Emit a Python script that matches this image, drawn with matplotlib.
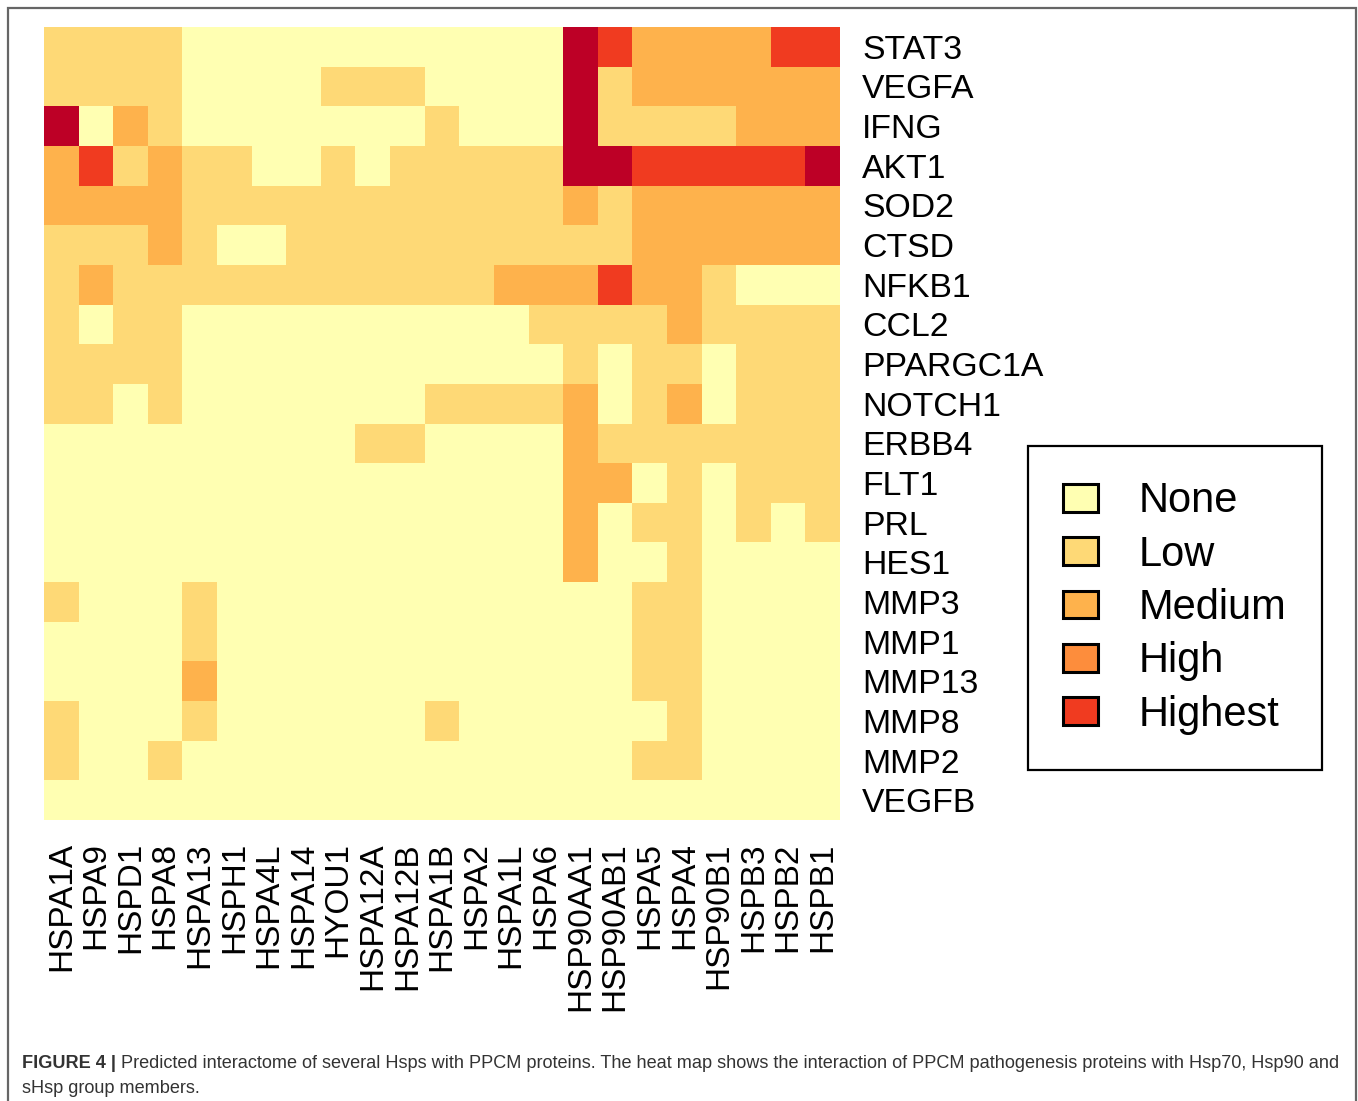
import matplotlib
matplotlib.use("Agg")
import matplotlib.pyplot as plt
import numpy as np
from matplotlib.colors import ListedColormap, BoundaryNorm
from matplotlib.patches import Patch, Rectangle

plt.rcParams['font.family'] = ['Liberation Sans', 'DejaVu Sans']

# ---------------- data ----------------
hsps = ["HSPA1A", "HSPA9", "HSPD1", "HSPA8", "HSPA13", "HSPH1", "HSPA4L", "HSPA14",
        "HYOU1", "HSPA12A", "HSPA12B", "HSPA1B", "HSPA2", "HSPA1L", "HSPA6",
        "HSP90AA1", "HSP90AB1", "HSPA5", "HSPA4", "HSP90B1", "HSPB3", "HSPB2", "HSPB1"]

proteins = ["STAT3", "VEGFA", "IFNG", "AKT1", "SOD2", "CTSD", "NFKB1", "CCL2",
            "PPARGC1A", "NOTCH1", "ERBB4", "FLT1", "PRL", "HES1", "MMP3", "MMP1",
            "MMP13", "MMP8", "MMP2", "VEGFB"]

# interaction level: 0 None, 1 Low, 2 Medium, 3 High, 4 Highest, 5 (darkest, not in legend)
stat3    = [1,1,1,1,0,0,0,0,0,0,0,0,0,0,0,5,4,2,2,2,2,4,4]
vegfa    = [1,1,1,1,0,0,0,0,1,1,1,0,0,0,0,5,1,2,2,2,2,2,2]
ifng     = [5,0,2,1,0,0,0,0,0,0,0,1,0,0,0,5,1,1,1,1,2,2,2]
akt1     = [2,4,1,2,1,1,0,0,1,0,1,1,1,1,1,5,5,4,4,4,4,4,5]
sod2     = [2,2,2,2,1,1,1,1,1,1,1,1,1,1,1,2,1,2,2,2,2,2,2]
ctsd     = [1,1,1,2,1,0,0,1,1,1,1,1,1,1,1,1,1,2,2,2,2,2,2]
nfkb1    = [1,2,1,1,1,1,1,1,1,1,1,1,1,2,2,2,4,2,2,1,0,0,0]
ccl2     = [1,0,1,1,0,0,0,0,0,0,0,0,0,0,1,1,1,1,2,1,1,1,1]
ppargc1a = [1,1,1,1,0,0,0,0,0,0,0,0,0,0,0,1,0,1,1,0,1,1,1]
notch1   = [1,1,0,1,0,0,0,0,0,0,0,1,1,1,1,2,0,1,2,0,1,1,1]
erbb4    = [0,0,0,0,0,0,0,0,0,1,1,0,0,0,0,2,1,1,1,1,1,1,1]
flt1     = [0,0,0,0,0,0,0,0,0,0,0,0,0,0,0,2,2,0,1,0,1,1,1]
prl      = [0,0,0,0,0,0,0,0,0,0,0,0,0,0,0,2,0,1,1,0,1,0,1]
hes1     = [0,0,0,0,0,0,0,0,0,0,0,0,0,0,0,2,0,0,1,0,0,0,0]
mmp3     = [1,0,0,0,1,0,0,0,0,0,0,0,0,0,0,0,0,1,1,0,0,0,0]
mmp1     = [0,0,0,0,1,0,0,0,0,0,0,0,0,0,0,0,0,1,1,0,0,0,0]
mmp13    = [0,0,0,0,2,0,0,0,0,0,0,0,0,0,0,0,0,1,1,0,0,0,0]
mmp8     = [1,0,0,0,1,0,0,0,0,0,0,1,0,0,0,0,0,0,1,0,0,0,0]
mmp2     = [1,0,0,1,0,0,0,0,0,0,0,0,0,0,0,0,0,1,1,0,0,0,0]
vegfb    = [0,0,0,0,0,0,0,0,0,0,0,0,0,0,0,0,0,0,0,0,0,0,0]

levels = ["None", "Low", "Medium", "High", "Highest"]

matrix = np.array([stat3, vegfa, ifng, akt1, sod2, ctsd, nfkb1, ccl2, ppargc1a,
                   notch1, erbb4, flt1, prl, hes1, mmp3, mmp1, mmp13, mmp8, mmp2, vegfb])

# ---------------- style ----------------
colors = ["#FFFFB2", "#FED976", "#FEB24C", "#FD8D3C", "#F03B20", "#BD0026"]
cmap = ListedColormap(colors)
norm = BoundaryNorm(np.arange(-0.5, 6.5, 1), cmap.N)

W, H = 1358, 1101
fig = plt.figure(figsize=(W / 100, H / 100), dpi=100)

def fx(px):
    return px / W

def fy(py):
    return 1 - py / H

ax = fig.add_axes([fx(44), fy(820), fx(840) - fx(44), fy(27) - fy(820)])
ax.pcolormesh(np.arange(len(hsps) + 1), np.arange(len(proteins) + 1), matrix,
              cmap=cmap, norm=norm)
ax.set_xlim(0, len(hsps))
ax.set_ylim(len(proteins), 0)
for s in ax.spines.values():
    s.set_visible(False)

ax.set_xticks(np.arange(len(hsps)) + 0.5)
ax.set_xticklabels(hsps, rotation=90, fontsize=24, va='top', ha='center')
ax.set_yticks(np.arange(len(proteins)) + 0.5)
ax.set_yticklabels(proteins, fontsize=24.3)
ax.yaxis.tick_right()
ax.tick_params(axis='both', length=0)
ax.tick_params(axis='x', pad=16)
ax.tick_params(axis='y', pad=16)

# legend
handles = [Patch(facecolor=colors[i], edgecolor='black', linewidth=2.2, label=levels[i])
           for i in range(len(levels))]
leg = fig.legend(handles=handles, loc='upper left',
                 bbox_to_anchor=(fx(1028), fy(446)), borderaxespad=0,
                 fontsize=30, frameon=True, fancybox=False, framealpha=1,
                 handlelength=0.82, handleheight=0.65, handletextpad=0.98,
                 labelspacing=0.32, borderpad=0.85)
leg.get_frame().set_edgecolor('black')
leg.get_frame().set_linewidth(1.6)

# outer frame
fig.add_artist(Rectangle((fx(8), -0.02), fx(1356) - fx(8), fy(8) + 0.02,
                         transform=fig.transFigure, fill=False,
                         edgecolor='#666666', linewidth=1.6))

# caption
renderer = fig.canvas.get_renderer()
cap_size = 13.1
t1 = fig.text(fx(22), fy(1068), "FIGURE 4 |", fontsize=cap_size, fontweight='bold',
              color='#333333', va='baseline', ha='left')
bb = t1.get_window_extent(renderer=renderer)
fig.text((bb.x1 + 5) / W, fy(1068),
         "Predicted interactome of several Hsps with PPCM proteins. The heat map shows the "
         "interaction of PPCM pathogenesis proteins with Hsp70, Hsp90 and",
         fontsize=cap_size, color='#333333', va='baseline', ha='left')
fig.text(fx(22), fy(1093), "sHsp group members.", fontsize=cap_size, color='#333333',
         va='baseline', ha='left')

fig.savefig("out.png", dpi=100)
